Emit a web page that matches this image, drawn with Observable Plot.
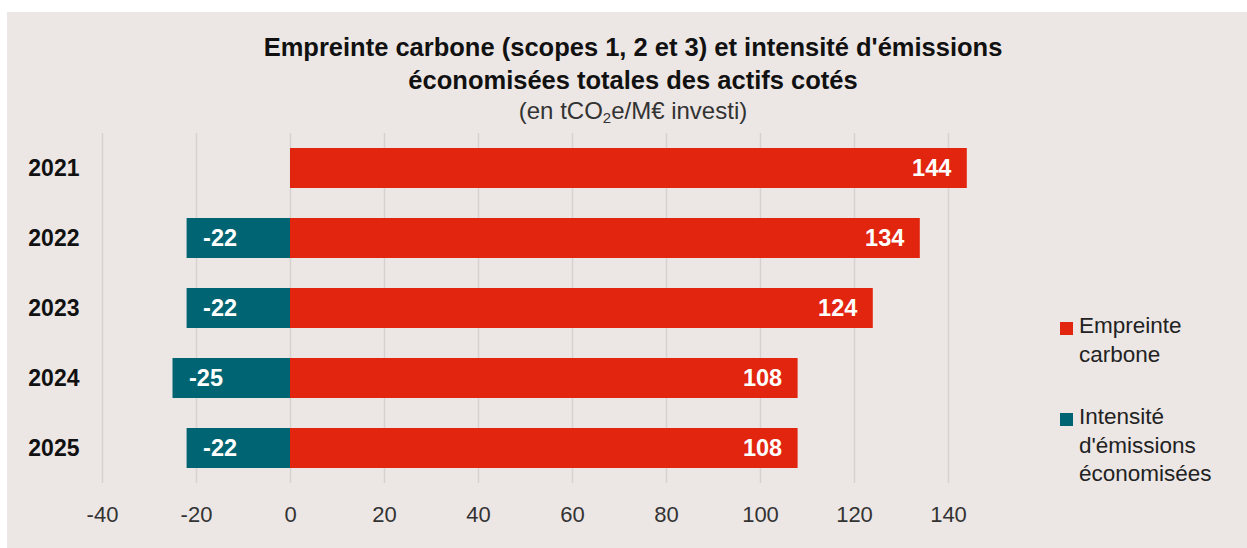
<!DOCTYPE html>
<html><head><meta charset="utf-8">
<script src="https://cdn.jsdelivr.net/npm/d3@7"></script>
<script src="https://cdn.jsdelivr.net/npm/@observablehq/plot@0.6"></script>
<style>
body{margin:0;background:#fff;font-family:"Liberation Sans",Arial,sans-serif;}
#card{position:absolute;left:7px;top:12px;width:1240px;height:536px;background:#ece7e5;overflow:hidden;}
.t{position:absolute;left:126px;width:1000px;text-align:center;color:#111;white-space:nowrap;}
.t1{font-weight:bold;font-size:25.5px;line-height:30px;}
.t3{font-size:24px;line-height:30px;color:#333;}
.t3 sub{font-size:15px;line-height:0;vertical-align:-4px;}
#chart{position:absolute;left:0;top:108px;}
.lg{position:absolute;left:1072px;font-size:22.5px;line-height:28.5px;color:#222;}
.sw{position:absolute;left:1053px;width:13px;height:13px;}
</style>
</head><body>
<div id="card">
  <div class="t t1" style="top:20px">Empreinte carbone (scopes 1, 2 et 3) et intensité d'émissions</div>
  <div class="t t1" style="top:53px">économisées totales des actifs cotés</div>
  <div class="t t3" style="top:84px">(en tCO<sub>2</sub>e/M€ investi)</div>
  <div id="chart"></div>
  <div class="sw" style="top:310px;background:#e2250f"></div>
  <div class="lg" style="top:300px">Empreinte<br>carbone</div>
  <div class="sw" style="top:401px;background:#006472"></div>
  <div class="lg" style="top:391px">Intensité<br>d'émissions<br>économisées</div>
</div>
<script>
const years = ["2021", "2022", "2023", "2024", "2025"];
const empreinte = [144, 134, 124, 108, 108];
const intensite = [null, -22, -22, -25, -22];
const xTicks = [-40, -20, 0, 20, 40, 60, 80, 100, 120, 140];

const colors = {emp: "#e2250f", int: "#006472"};
const empRows = years.map((y, i) => ({year: y, value: empreinte[i]}));
const intRows = years.map((y, i) => ({year: y, value: intensite[i]})).filter(d => d.value != null);

const chart = Plot.plot({
  width: 1240,
  height: 428,
  marginLeft: 95,
  marginRight: 299,
  marginTop: 13,
  marginBottom: 65,
  style: {background: "transparent", fontFamily: "'Liberation Sans', Arial, sans-serif"},
  x: {domain: [-40, 140]},
  y: {domain: years, paddingInner: 0.43, paddingOuter: 0.215},
  marks: [
    Plot.gridX(xTicks, {stroke: "#d6d2d1", strokeOpacity: 1, strokeWidth: 1.5}),
    Plot.barX(empRows, {y: "year", x1: 0, x2: "value", fill: colors.emp}),
    Plot.barX(intRows, {y: "year", x1: 0, x2: "value", fill: colors.int}),
    Plot.text(empRows, {y: "year", x: "value", text: d => String(d.value), textAnchor: "end", dx: -16, fill: "white", fontWeight: "bold", fontSize: 23.5}),
    Plot.text(intRows, {y: "year", x: "value", text: d => String(d.value), textAnchor: "start", dx: 16, fill: "white", fontWeight: "bold", fontSize: 23.5}),
    Plot.axisX({ticks: xTicks, tickSize: 0, tickPadding: 23, fontSize: 22, color: "#333", label: null, tickFormat: d => String(d)}),
    Plot.axisY({tickSize: 0, tickPadding: 23, fontSize: 23, fontWeight: "bold", color: "#111", label: null})
  ]
});
document.getElementById("chart").appendChild(chart);
</script>
</body></html>
